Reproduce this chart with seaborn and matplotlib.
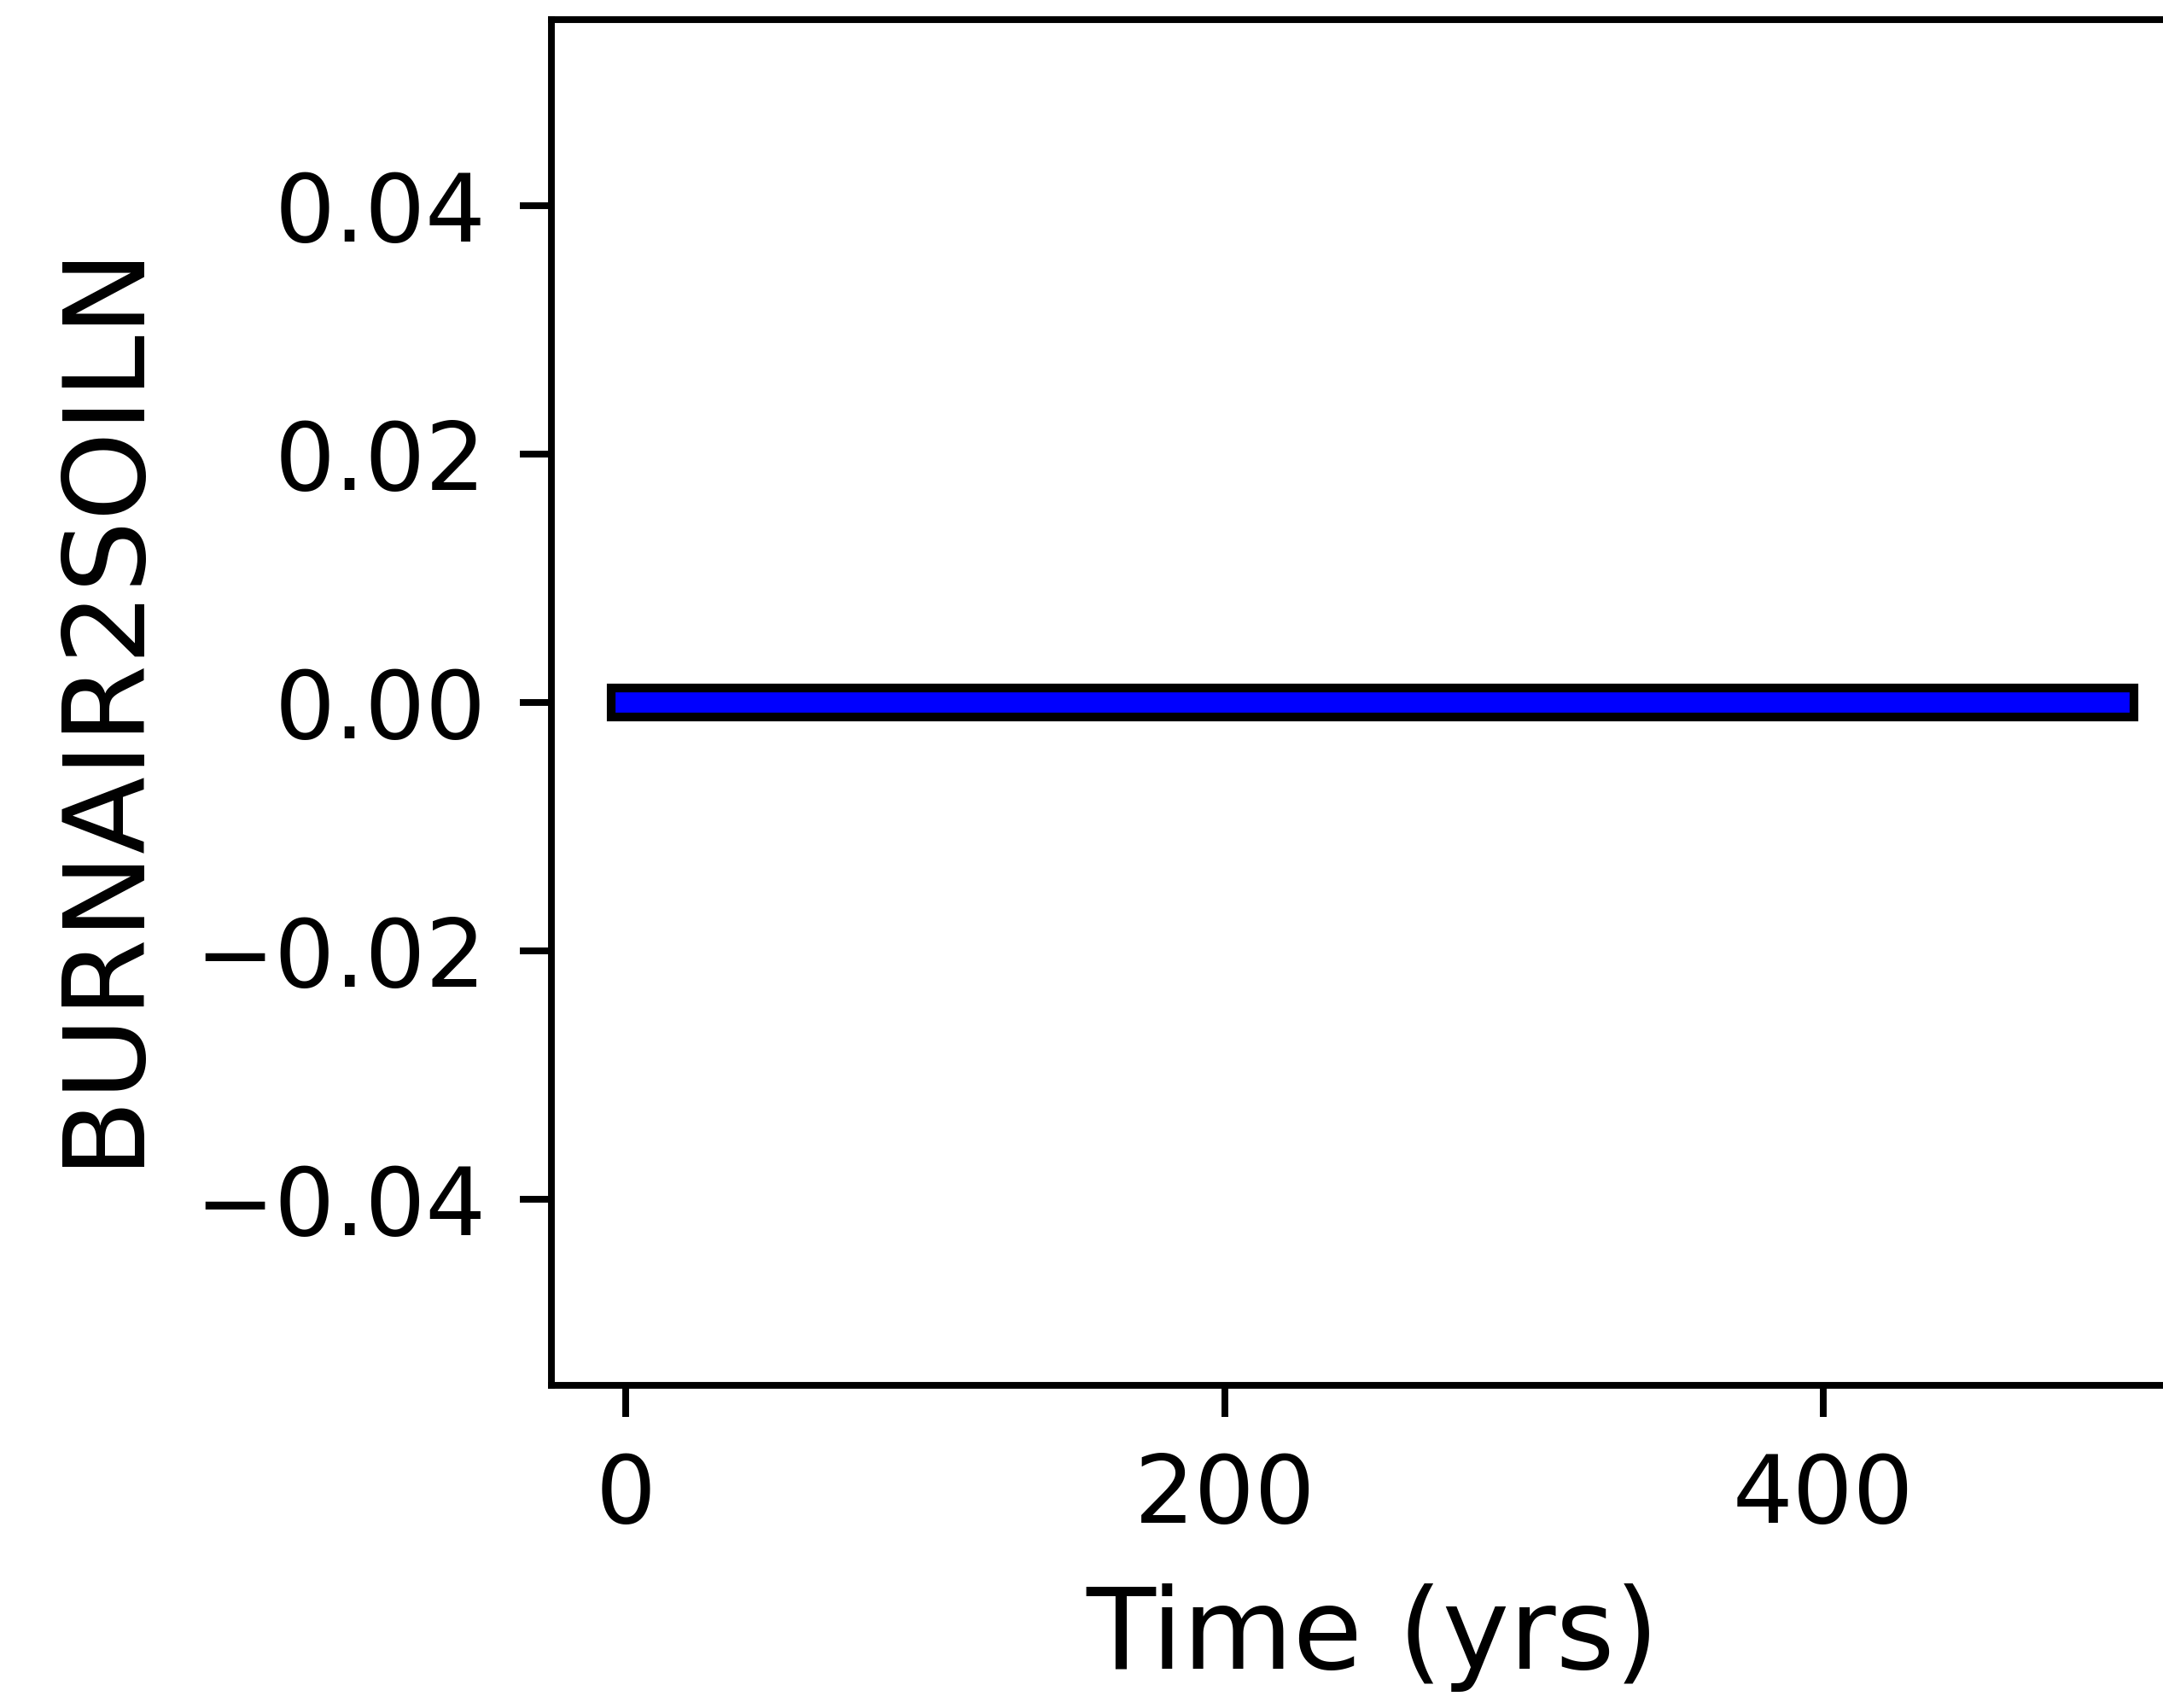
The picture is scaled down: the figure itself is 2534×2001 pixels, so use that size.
import matplotlib
matplotlib.use("Agg")
import pandas as pd
import seaborn as sns
import matplotlib.pyplot as plt

# model output: burned-area N flux to soil, flat at zero for the whole run
time_yrs = [0, 499]
burnair2soiln = [0.0, 0.0]

df = pd.DataFrame({"Time (yrs)": time_yrs, "BURNAIR2SOILN": burnair2soiln})

sns.set_theme(style="ticks")
plt.rcParams['font.family'] = ['DejaVu Sans']

dpi = 300
fig = plt.figure(figsize=(2534 / dpi, 2001 / dpi), dpi=dpi)
ax = fig.add_axes([0.2549, 0.1889, 0.7597, 0.7998])

# black outline under a thinner blue line
sns.lineplot(data=df, x="Time (yrs)", y="BURNAIR2SOILN", ax=ax, color="black",
             linewidth=10.6, solid_capstyle="projecting")
sns.lineplot(data=df, x="Time (yrs)", y="BURNAIR2SOILN", ax=ax, color="blue",
             linewidth=5.7, solid_capstyle="projecting")

for side in ax.spines.values():
    side.set_linewidth(1.9)
    side.set_color("black")
ax.tick_params(axis="both", length=8.9, width=1.9, pad=9.5, labelsize=26.7, color="black", labelcolor="black")
ax.set_xticks([0, 200, 400])
ax.set_xlabel("Time (yrs)", fontsize=31.8, labelpad=11.5, color="black")
ax.set_ylabel("BURNAIR2SOILN", fontsize=31.8, labelpad=10.5, color="black")

fig.savefig("out.png", dpi=dpi)
